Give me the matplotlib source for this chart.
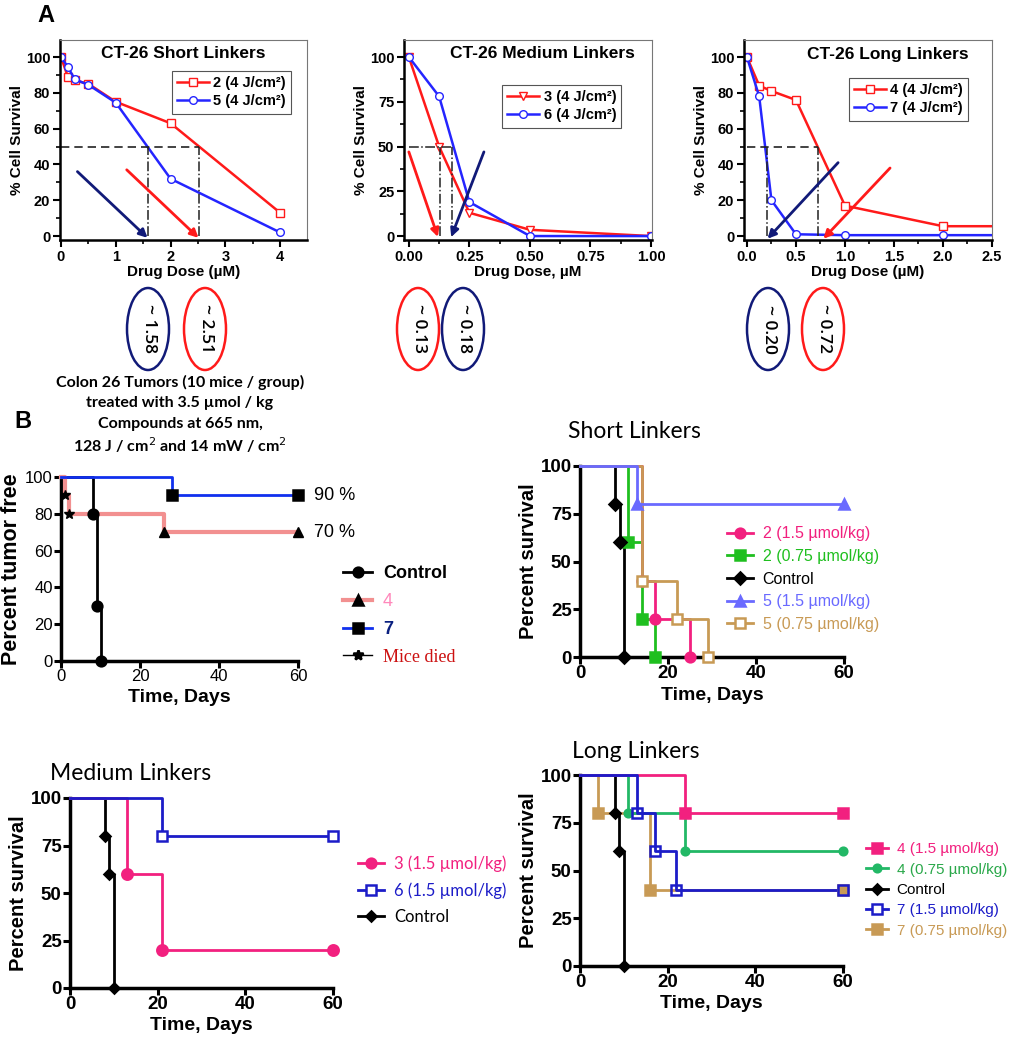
import matplotlib.pyplot as plt
from matplotlib.lines import Line2D
from matplotlib.patches import Ellipse

plt.rcParams['font.family'] = ['Liberation Sans', 'DejaVu Sans']

W, H = 1014, 1050

# ---------------- panel A: in vitro dose response ----------------
dose_short = [0, 0.125, 0.25, 0.5, 1, 2, 4]
surv_2 = [100, 89, 87, 85, 75, 63, 13]
surv_5 = [100, 94.5, 87.5, 84.5, 74.5, 32, 2]

dose_med = [0, 0.125, 0.25, 0.5, 1]
surv_3 = [100, 50, 13, 3.5, 0]
surv_6 = [100, 78, 19, 0, 0]

dose_long = [0, 0.125, 0.25, 0.5, 1, 2, 4]
surv_4 = [100, 84, 81, 76, 17, 5.5, 5.5]
surv_7 = [100, 78, 20, 1, 0.5, 0.5, 0.5]

ic50_short = [1.58, 2.51]   # 5, 2
ic50_med = [0.13, 0.18]     # 3, 6
ic50_long = [0.20, 0.72]    # 7, 4

# ---------------- panel B: in vivo survival ----------------
# tumor free, 3.5 umol/kg
tf_ctrl_t = [0, 8, 9, 10]
tf_ctrl_s = [100, 80, 30, 0]
tf_4_t = [0, 1, 2, 26, 60]
tf_4_s = [100, 90, 80, 70, 70]
tf_7_t = [0, 28, 60]
tf_7_s = [100, 90, 90]
died_t = [1, 2]
died_s = [90, 80]

ctrl_t = [0, 8, 9, 10]
ctrl_s = [100, 80, 60, 0]

# short linkers
sh_2a_t = [0, 14, 17, 25]
sh_2a_s = [100, 40, 20, 0]
sh_2b_t = [0, 11, 14, 17]
sh_2b_s = [100, 60, 20, 0]
sh_5a_t = [0, 13, 60]
sh_5a_s = [100, 80, 80]
sh_5b_t = [0, 14, 22, 29]
sh_5b_s = [100, 40, 20, 0]

# medium linkers
md_3_t = [0, 13, 21, 60]
md_3_s = [100, 60, 20, 20]
md_6_t = [0, 21, 60]
md_6_s = [100, 80, 80]

# long linkers
lg_4a_t = [0, 24, 60]
lg_4a_s = [100, 80, 80]
lg_4b_t = [0, 11, 24, 60]
lg_4b_s = [100, 80, 60, 60]
lg_7a_t = [0, 13, 17, 22, 60]
lg_7a_s = [100, 80, 60, 40, 40]
lg_7b_t = [0, 4, 16, 60]
lg_7b_s = [100, 80, 40, 40]

RED = '#ff1a1a'
BLUE = '#2525ff'
NAVY = '#111a78'
PINK = '#f2207f'
GREEN = '#1fbf1f'
LBLUE = '#6a6aff'
TAN = '#c89a55'
DBLUE = '#1c1cc8'
TEAL = '#22b866'

fig = plt.figure(figsize=(W / 100, H / 100), dpi=100)


def px_axes(l, t, r, b):
    return fig.add_axes([l / W, 1 - b / H, (r - l) / W, (b - t) / H])


def style_a(ax, xt, xminor, xfmt, yt, yminor, xlim, xlabel):
    ax.set_xlim(*xlim)
    ax.set_ylim(-2.2, 109.5)
    ax.set_xticks(xt)
    ax.set_xticklabels([xfmt.format(v) for v in xt], fontweight='bold')
    ax.set_xticks(xminor, minor=True)
    ax.set_yticks(yt)
    ax.set_yticklabels([str(v) for v in yt], fontweight='bold')
    ax.set_yticks(yminor, minor=True)
    for s in ['left', 'bottom']:
        ax.spines[s].set_linewidth(1.8)
    for s in ['top', 'right']:
        ax.spines[s].set_linewidth(0.8)
        ax.spines[s].set_color('#777777')
    ax.tick_params(which='major', direction='out', length=5, width=1.5, labelsize=10.5, pad=2)
    ax.tick_params(which='minor', direction='out', length=3, width=1.2)
    ax.set_xlabel(xlabel, fontsize=11, fontweight='bold', labelpad=1)
    ax.set_ylabel('% Cell Survival', fontsize=11, fontweight='bold', labelpad=1)


def arrow(ax, start, end, color):
    ax.annotate('', xy=end, xytext=start,
                arrowprops=dict(arrowstyle='-|>', color=color, lw=2, mutation_scale=12,
                                shrinkA=0, shrinkB=0), annotation_clip=False)


def legend_a(ax, anchor):
    leg = ax.legend(loc='upper left', bbox_to_anchor=anchor, borderaxespad=0,
                    fancybox=False, edgecolor='#555555', framealpha=1,
                    prop=dict(weight='bold', size=10.5), handlelength=2.2,
                    handletextpad=0.3, labelspacing=0.3, borderpad=0.35)
    leg.get_frame().set_linewidth(0.8)


# --- A: short
a1 = px_axes(60, 40, 307, 240)
a1.plot(dose_short, surv_2, color=RED, lw=1.8, marker='s', ms=5.5, mfc='white', mew=1, label='2 (4 J/cm²)')
a1.plot(dose_short, surv_5, color=BLUE, lw=1.8, marker='o', ms=5.5, mfc='white', mew=1, label='5 (4 J/cm²)')
a1.plot([0, ic50_short[1]], [50, 50], color='#222222', lw=1.2, ls=(0, (5, 3)))
for v in ic50_short:
    a1.plot([v, v], [0, 50], color='#222222', lw=1.1, ls='-.')
arrow(a1, (0.3, 36), (ic50_short[0], -1), NAVY)
arrow(a1, (1.2, 37), (ic50_short[1], -1), RED)
a1.text(0.5, 0.93, 'CT-26 Short Linkers', transform=a1.transAxes, ha='center', va='center',
        fontsize=12.5, fontweight='bold')
style_a(a1, [0, 1, 2, 3, 4], [0.5, 1.5, 2.5, 3.5], '{:g}', [0, 20, 40, 60, 80, 100],
        [10, 30, 50, 70, 90], (-0.018, 4.49), 'Drug Dose (µM)')
legend_a(a1, (0.453, 0.845))

# --- A: medium
a2 = px_axes(404, 40, 652, 240)
a2.plot(dose_med, surv_3, color=RED, lw=1.8, marker='v', ms=6, mfc='white', mew=1, label='3 (4 J/cm²)')
a2.plot(dose_med, surv_6, color=BLUE, lw=1.8, marker='o', ms=5.5, mfc='white', mew=1, label='6 (4 J/cm²)')
a2.plot([0, ic50_med[1]], [50, 50], color='#222222', lw=1.1, ls='-.')
for v in ic50_med:
    a2.plot([v, v], [0, 50], color='#222222', lw=1.1, ls='-.')
arrow(a2, (0.0, 47), (0.12, -0.5), RED)
arrow(a2, (0.31, 47), (0.175, -0.5), NAVY)
a2.text(0.56, 0.93, 'CT-26 Medium Linkers', transform=a2.transAxes, ha='center', va='center',
        fontsize=12.5, fontweight='bold')
style_a(a2, [0, 0.25, 0.5, 0.75, 1.0], [0.125, 0.375, 0.625, 0.875], '{:.2f}', [0, 25, 50, 75, 100],
        [12.5, 37.5, 62.5, 87.5], (-0.02, 1.004), 'Drug Dose, µM')
legend_a(a2, (0.395, 0.775))

# --- A: long
a3 = px_axes(744, 40, 992, 240)
a3.plot(dose_long, surv_4, color=RED, lw=1.8, marker='s', ms=5.5, mfc='white', mew=1, label='4 (4 J/cm²)')
a3.plot(dose_long, surv_7, color=BLUE, lw=1.8, marker='o', ms=5.5, mfc='white', mew=1, label='7 (4 J/cm²)')
a3.plot([0, ic50_long[1]], [50, 50], color='#222222', lw=1.2, ls=(0, (5, 3)))
for v in ic50_long:
    a3.plot([v, v], [0, 50], color='#222222', lw=1.1, ls='-.')
arrow(a3, (0.93, 41), (0.21, -1.5), NAVY)
arrow(a3, (1.46, 38), (0.78, -1.5), RED)
a3.text(0.58, 0.93, 'CT-26 Long Linkers', transform=a3.transAxes, ha='center', va='center',
        fontsize=12.5, fontweight='bold')
style_a(a3, [0, 0.5, 1.0, 1.5, 2.0, 2.5], [0.25, 0.75, 1.25, 1.75, 2.25], '{:.1f}',
        [0, 20, 40, 60, 80, 100], [10, 30, 50, 70, 90], (-0.03, 2.5), 'Drug Dose (µM)')
legend_a(a3, (0.423, 0.81))


# ---------------- panel B helpers ----------------
def style_b(ax, yt, labsize, weight):
    ax.set_xlim(0, 60)
    ax.set_ylim(0, 100)
    ax.spines[['top', 'right']].set_visible(False)
    ax.spines[['left', 'bottom']].set_linewidth(2.5)
    ax.set_xticks([0, 20, 40, 60])
    ax.set_xticklabels(['0', '20', '40', '60'], fontweight=weight)
    ax.set_yticks(yt)
    ax.set_yticklabels([str(v) for v in yt], fontweight=weight)
    ax.tick_params(direction='out', length=5, width=2.2, labelsize=labsize, pad=1)
    ax.set_xlabel('Time, Days', fontsize=14, fontweight='bold', labelpad=3)


def km(ax, t, s, color, marker, mfc=None, ms=7, lw=2, z=3, mcolor=None):
    ax.step(t, s, where='post', color=color, lw=lw, clip_on=False, zorder=z)
    mc = mcolor or color
    ax.plot(t[1:], s[1:], ls='none', marker=marker, color=mc, mec=mc,
            mfc=mfc or mc, ms=ms, mew=1.8, clip_on=False, zorder=z + 0.5)


def handle(color, marker, mfc=None, ms=7, lw=2, mcolor=None):
    mc = mcolor or color
    return Line2D([], [], color=color, lw=lw, marker=marker, mec=mc, mfc=mfc or mc, ms=ms, mew=1.8)


def legend_b(ax, handles, labels, colors, anchor, family, size, spacing, hl=1.6):
    leg = ax.legend(handles, labels, loc='upper left', bbox_to_anchor=anchor,
                    bbox_transform=fig.transFigure, frameon=False, borderaxespad=0,
                    handlelength=hl, handletextpad=0.6, labelspacing=spacing,
                    prop=dict(family=family, size=size))
    for txt, c in zip(leg.get_texts(), colors):
        txt.set_color(c)
    return leg


# --- B: tumor free
b1 = px_axes(61, 477, 298, 661)
km(b1, tf_ctrl_t, tf_ctrl_s, 'black', 'o', ms=7, lw=2)
b1.step(tf_4_t, tf_4_s, where='post', color='#f29090', lw=3, clip_on=False, zorder=3)
b1.plot(tf_4_t[3:], tf_4_s[3:], ls='none', marker='^', color='black', ms=7, clip_on=False, zorder=4)
km(b1, tf_7_t, tf_7_s, '#1030ee', 's', ms=7, lw=2, mcolor='black')
b1.plot(died_t, died_s, ls='none', marker='*', color='black', ms=7, clip_on=False, zorder=5)
style_b(b1, [0, 20, 40, 60, 80, 100], 12, 'normal')
b1.set_ylabel('Percent tumor free', fontsize=15.5, fontweight='bold', labelpad=2)
b1.text(64, 90, '90 %', fontsize=13, va='center')
b1.text(64, 70, '70 %', fontsize=13, va='center')
leg = legend_b(b1,
               [handle('black', 'o'), handle('#f29090', '^', mcolor='black', lw=3),
                handle('#1030ee', 's', mcolor='black'), handle('black', '*', lw=1)],
               ['Control', '4', '7', 'Mice died'],
               ['black', '#ff88bb', '#0a2080', '#cc1111'],
               (336 / W, 1 - 558 / H), 'Liberation Sans', 13, 0.6)
for i in (0, 2):
    leg.get_texts()[i].set_fontweight('bold')
leg.get_texts()[3].set_fontfamily('Liberation Serif')

# --- B: short linkers
b2 = px_axes(580, 466, 844, 657)
km(b2, sh_2b_t, sh_2b_s, GREEN, 's', ms=7)
km(b2, sh_2a_t, sh_2a_s, PINK, 'o', ms=7)
km(b2, ctrl_t, ctrl_s, 'black', 'D', ms=6)
km(b2, sh_5b_t, sh_5b_s, TAN, 's', mfc='white', ms=7)
km(b2, sh_5a_t, sh_5a_s, LBLUE, '^', ms=7)
style_b(b2, [0, 25, 50, 75, 100], 13.5, 'bold')
b2.set_ylabel('Percent survival', fontsize=14.5, fontweight='bold', labelpad=2)
legend_b(b2,
         [handle(PINK, 'o'), handle(GREEN, 's'), handle('black', 'D', ms=6),
          handle(LBLUE, '^'), handle(TAN, 's', mfc='white')],
         ['2 (1.5 µmol/kg)', '2 (0.75 µmol/kg)', 'Control', '5 (1.5 µmol/kg)', '5 (0.75 µmol/kg)'],
         [PINK, GREEN, 'black', LBLUE, TAN],
         (721 / W, 1 - 520 / H), 'Liberation Sans', 11.5, 0.48)

# --- B: medium linkers
b3 = px_axes(70, 798, 333, 988)
km(b3, ctrl_t, ctrl_s, 'black', 'D', ms=5)
km(b3, md_3_t, md_3_s, PINK, 'o', ms=7.5)
km(b3, md_6_t, md_6_s, DBLUE, 's', mfc='white', ms=7)
style_b(b3, [0, 25, 50, 75, 100], 13.5, 'bold')
b3.set_ylabel('Percent survival', fontsize=14.5, fontweight='bold', labelpad=2)
legend_b(b3,
         [handle(PINK, 'o'), handle(DBLUE, 's', mfc='white'), handle('black', 'D', ms=5)],
         ['3 (1.5 µmol/kg)', '6 (1.5 µmol/kg)', 'Control'],
         [PINK, DBLUE, 'black'],
         (351 / W, 1 - 849 / H), 'Lato', 12, 0.6)

# --- B: long linkers
b4 = px_axes(580, 775, 843, 966)
km(b4, lg_7b_t, lg_7b_s, TAN, 's', ms=6.5)
km(b4, ctrl_t, ctrl_s, 'black', 'D', ms=5)
km(b4, lg_4b_t, lg_4b_s, TEAL, 'o', ms=5.5)
km(b4, lg_4a_t, lg_4a_s, PINK, 's', ms=7)
km(b4, lg_7a_t, lg_7a_s, DBLUE, 's', mfc='none', ms=7.5)
style_b(b4, [0, 25, 50, 75, 100], 13.5, 'bold')
b4.set_ylabel('Percent survival', fontsize=14.5, fontweight='bold', labelpad=2)
legend_b(b4,
         [handle(PINK, 's'), handle(TEAL, 'o', ms=5.5), handle('black', 'D', ms=5),
          handle(DBLUE, 's', mfc='white'), handle(TAN, 's', ms=6.5)],
         ['4 (1.5 µmol/kg)', '4 (0.75 µmol/kg)', 'Control', '7 (1.5 µmol/kg)', '7 (0.75 µmol/kg)'],
         [PINK, '#2aa84a', 'black', DBLUE, TAN],
         (860 / W, 1 - 836 / H), 'Liberation Sans', 11, 0.42, hl=1.4)

# ---------------- overlay: labels, ellipses, notes ----------------
ov = fig.add_axes([0, 0, 1, 1])
ov.set_xlim(0, W)
ov.set_ylim(H, 0)
ov.axis('off')

ov.text(37, 16, 'A', fontsize=17, fontweight='bold', va='center')
ov.text(14, 421, 'B', fontsize=17, fontweight='bold', va='center')

ellipses = [(148, ic50_short[0], NAVY), (205, ic50_short[1], RED),
            (418, ic50_med[0], RED), (463, ic50_med[1], NAVY),
            (768, ic50_long[0], NAVY), (823, ic50_long[1], RED)]
for cx, val, col in ellipses:
    ov.add_patch(Ellipse((cx, 329), 42, 82, fill=False, edgecolor=col, lw=1.8))
    ov.text(cx + 1, 329, '~ {:.2f}'.format(val), rotation=270, ha='center', va='center',
            fontsize=12.5, family='Open Sans', fontweight='semibold')

note = ['Colon 26 Tumors (10 mice / group)',
        'treated with 3.5 µmol / kg',
        'Compounds at 665 nm,',
        '128 J / cm$^2$ and 14 mW / cm$^2$']
for i, line in enumerate(note):
    ov.text(180, 382 + i * 21, line, ha='center', va='center', fontsize=11.5,
            family='Lato', fontweight='bold')

ov.text(568, 432, 'Short Linkers', fontsize=16.5, family='Lato', va='center')
ov.text(50, 773, 'Medium Linkers', fontsize=16.5, family='Lato', va='center')
ov.text(572, 751, 'Long Linkers', fontsize=16.5, family='Lato', va='center')

fig.savefig('out.png', dpi=100)
